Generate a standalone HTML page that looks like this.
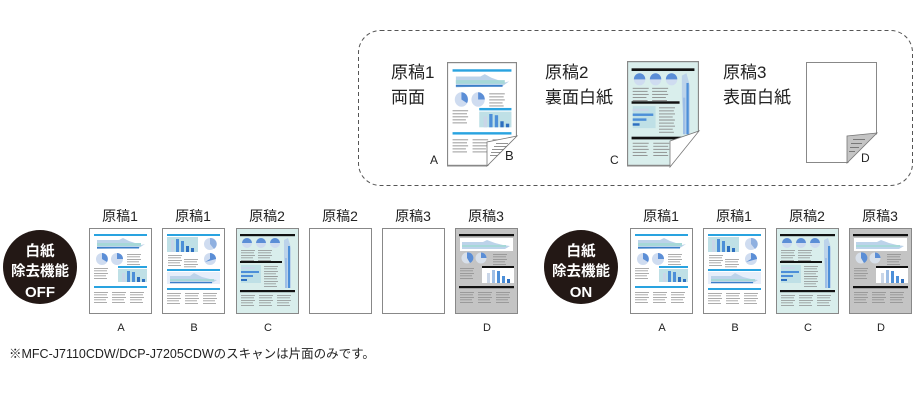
<!DOCTYPE html>
<html><head><meta charset="utf-8"><style>
html,body{margin:0;padding:0;background:#fff;}
body{width:920px;height:400px;overflow:hidden;position:relative;font-family:"Liberation Sans","Noto Sans CJK JP",sans-serif;}
svg{position:absolute;left:0;top:0;}
</style></head><body>
<svg width="920" height="400" viewBox="0 0 920 400" xmlns="http://www.w3.org/2000/svg" font-family="Liberation Sans, Noto Sans CJK JP, sans-serif">
<defs>
<g id="txt">
<rect x="0" y="0" width="14" height="0.7" fill="#888"/><rect x="0" y="2.5" width="13" height="0.7" fill="#888"/><rect x="0" y="5" width="14" height="0.7" fill="#888"/><rect x="0" y="7.5" width="12" height="0.7" fill="#888"/><rect x="0" y="10" width="13" height="0.7" fill="#888"/>
</g>
<symbol id="pA" viewBox="0 0 63 86" preserveAspectRatio="none">
<rect x="0.5" y="0.5" width="62" height="85" fill="#fff" stroke="#888"/>
<rect x="5" y="6" width="53" height="2" fill="#29a3e0"/>
<polygon points="8,12 30,12 34,10 40,13 46,15 52,17 56,16 50,20 8,21" fill="#bcd3ea"/>
<rect x="8" y="15" width="44" height="3" fill="#a6d8d8"/>
<rect x="8" y="19" width="42" height="1.5" fill="#3b7fc8"/>
<circle cx="13" cy="31" r="6" fill="#cfdcf0"/><path d="M13,31 L13,25 A6,6 0 0 1 18,34 Z" fill="#5b8ed6"/>
<circle cx="28" cy="31" r="6" fill="#cfdcf0"/><path d="M28,31 L28,25 A6,6 0 0 1 34,31 Z" fill="#5b8ed6"/>
<use href="#txt" x="38" y="26"/>
<use href="#txt" x="5" y="40"/>
<rect x="29" y="38" width="29" height="2" fill="#29a3e0"/>
<rect x="29" y="41" width="29" height="13" fill="#bfe0e6"/>
<rect x="33" y="45" width="3" height="9" fill="#c9d6e8"/><rect x="38" y="43" width="3" height="11" fill="#4d8fd8"/><rect x="43" y="44" width="3" height="10" fill="#4d8fd8"/><rect x="48" y="49" width="3" height="5" fill="#2d6fc0"/><rect x="53" y="51" width="3" height="3" fill="#2d6fc0"/>
<rect x="5" y="58" width="53" height="2" fill="#29a3e0"/>
<use href="#txt" x="5" y="64"/><use href="#txt" x="23" y="64"/><use href="#txt" x="41" y="64"/>
</symbol>
<symbol id="pB" viewBox="0 0 63 86" preserveAspectRatio="none">
<rect x="0.5" y="0.5" width="62" height="85" fill="#fff" stroke="#888"/>
<rect x="5" y="6" width="53" height="2" fill="#29a3e0"/>
<rect x="5" y="9" width="31" height="15" fill="#bfe0e6"/>
<rect x="9" y="12" width="3" height="12" fill="#c9d6e8"/><rect x="14" y="11" width="3" height="13" fill="#4d8fd8"/><rect x="19" y="13" width="3" height="11" fill="#4d8fd8"/><rect x="24" y="18" width="3" height="6" fill="#2d6fc0"/><rect x="29" y="20" width="3" height="4" fill="#2d6fc0"/>
<circle cx="48" cy="16" r="6" fill="#cfdcf0"/><path d="M48,16 L48,10 A6,6 0 0 1 52,21 Z" fill="#8fb0e0"/>
<circle cx="48" cy="31" r="6" fill="#cfdcf0"/><path d="M48,31 L48,25 A6,6 0 0 1 54,31 L43,34 Z" fill="#5b8ed6"/>
<use href="#txt" x="6" y="27"/><use href="#txt" x="22" y="31"/>
<rect x="5" y="41" width="53" height="2" fill="#29a3e0"/>
<rect x="5" y="44" width="53" height="12" fill="#e6eefa"/>
<polygon points="8,48 28,48 32,45 40,49 48,51 55,52 50,55 8,55" fill="#bcd3ea"/>
<rect x="8" y="51" width="44" height="2" fill="#a6d8d8"/><rect x="8" y="54" width="42" height="1.2" fill="#3b7fc8"/>
<rect x="5" y="60" width="53" height="2" fill="#29a3e0"/>
<use href="#txt" x="5" y="65"/><use href="#txt" x="23" y="65"/><use href="#txt" x="41" y="65"/>
</symbol>
<symbol id="pC" viewBox="0 0 63 86" preserveAspectRatio="none">
<rect x="0.5" y="0.5" width="62" height="85" fill="#d9eeec" stroke="#888"/>
<rect x="4" y="6" width="55" height="2.2" fill="#111"/>
<circle cx="11" cy="15" r="5" fill="#cfdcf0"/><path d="M11,15 L6,15 A5,5 0 0 1 16,15 Z" fill="#5b8ed6"/>
<circle cx="25" cy="15" r="5" fill="#cfdcf0"/><path d="M25,15 L20,15 A5,5 0 0 1 30,15 Z" fill="#5b8ed6"/>
<circle cx="39" cy="15" r="5" fill="#cfdcf0"/><path d="M39,15 L34,15 A5,5 0 0 1 44,15 Z" fill="#5b8ed6"/>
<use href="#txt" x="5" y="22"/><use href="#txt" x="22" y="22"/>
<rect x="4" y="33" width="42" height="2" fill="#111"/>
<rect x="5" y="37" width="20" height="18" fill="#bfe0e6"/>
<rect x="5" y="39" width="14" height="2" fill="#c9d6e8"/><rect x="5" y="43" width="18" height="2" fill="#4d8fd8"/><rect x="5" y="47" width="12" height="2" fill="#4d8fd8"/><rect x="5" y="51" width="6" height="2" fill="#2d6fc0"/>
<use href="#txt" x="28" y="38"/><use href="#txt" x="28" y="48"/>
<polygon points="48,12 52,10 55,20 55,60 50,60 48,30" fill="#bcd3ea"/><rect x="52" y="18" width="2" height="42" fill="#4d8fd8"/><rect x="49" y="30" width="2" height="30" fill="#9fbfe6"/>
<rect x="4" y="62" width="55" height="2.2" fill="#111"/>
<use href="#txt" x="5" y="67"/><use href="#txt" x="23" y="67"/><use href="#txt" x="41" y="67"/>
</symbol>
<symbol id="pD" viewBox="0 0 63 86" preserveAspectRatio="none">
<rect x="0.5" y="0.5" width="62" height="85" fill="#c4c4c4" stroke="#888"/>
<rect x="4" y="6" width="55" height="2.2" fill="#111"/>
<rect x="5" y="10" width="53" height="13" fill="#fff"/>
<polygon points="7,14 28,14 32,12 40,15 48,17 55,18 50,21 7,21" fill="#bcd3ea"/><rect x="7" y="17" width="44" height="2" fill="#a6d8d8"/>
<circle cx="12" cy="30" r="5.5" fill="#d8e0ea"/><path d="M12,30 L12,24.5 A5.5,5.5 0 0 1 15,35 Z" fill="#5b8ed6"/>
<circle cx="26" cy="30" r="5.5" fill="#d8e0ea"/><path d="M26,30 L26,24.5 A5.5,5.5 0 0 1 31.5,30 Z" fill="#5b8ed6"/>
<use href="#txt" x="38" y="26"/><use href="#txt" x="5" y="40"/>
<rect x="27" y="38" width="32" height="2" fill="#111"/>
<rect x="27" y="40" width="32" height="15" fill="#fff"/>
<rect x="32" y="45" width="3" height="10" fill="#c9d6e8"/><rect x="37" y="42" width="3" height="13" fill="#9fbfe6"/><rect x="42" y="43" width="3" height="12" fill="#4d8fd8"/><rect x="47" y="48" width="3" height="7" fill="#4d8fd8"/><rect x="52" y="51" width="3" height="4" fill="#2d6fc0"/>
<rect x="4" y="58" width="55" height="2.2" fill="#111"/>
<use href="#txt" x="5" y="64"/><use href="#txt" x="23" y="64"/><use href="#txt" x="41" y="64"/>
</symbol>
<symbol id="pE" viewBox="0 0 63 86" preserveAspectRatio="none">
<rect x="0.5" y="0.5" width="62" height="85" fill="#fff" stroke="#888"/>
</symbol>
</defs>

<rect x="358.5" y="30.5" width="554" height="155" rx="22" fill="none" stroke="#555" stroke-width="1" stroke-dasharray="4,3"/>

<g font-size="17" fill="#222">
<text x="391" y="78">原稿1</text><text x="391" y="103">両面</text>
<text x="545" y="78">原稿2</text><text x="545" y="103">裏面白紙</text>
<text x="723" y="78">原稿3</text><text x="723" y="103">表面白紙</text>
</g>

<use href="#pA" x="447" y="62" width="70" height="104"/>
<polygon points="487,167 518,135 518,167" fill="#fff"/>
<polygon points="487,166 487,142 517,136" fill="#fff" stroke="#777" stroke-width="0.8"/>
<g fill="#777"><rect x="496" y="143" width="12" height="0.8"/><rect x="494" y="146" width="13" height="0.8"/><rect x="492" y="149" width="12" height="0.8"/><rect x="491" y="152" width="10" height="0.8"/><rect x="490" y="155" width="8" height="0.8"/></g>
<line x1="447" y1="166" x2="487" y2="166" stroke="#888"/>
<text x="430" y="164" font-size="12" fill="#222">A</text>
<text x="505" y="160" font-size="13" fill="#222">B</text>

<use href="#pC" x="627" y="61" width="72" height="105"/>
<polygon points="670,167 700,130 700,167" fill="#fff"/>
<polygon points="670,167 670,141 699,131" fill="#fff" stroke="#777" stroke-width="0.8"/>
<line x1="627" y1="166" x2="670" y2="166" stroke="#888"/>
<text x="610" y="164" font-size="12" fill="#222">C</text>

<rect x="806.5" y="62.5" width="70" height="100" fill="#fff" stroke="#888"/>
<polygon points="847,164 878,133 878,164" fill="#fff"/>
<polygon points="847,163 847,136 877,133" fill="#c4c4c4" stroke="#777" stroke-width="0.8"/>
<g fill="#666"><rect x="853" y="139" width="12" height="0.8"/><rect x="851" y="143" width="11" height="0.8"/><rect x="850" y="147" width="9" height="0.8"/><rect x="849" y="151" width="6" height="0.8"/></g>
<text x="861" y="162" font-size="12" fill="#222">D</text>

<circle cx="40" cy="267" r="37" fill="#231815"/>
<g fill="#fff" font-size="14.5" font-weight="bold" text-anchor="middle">
<text x="40" y="256">白紙</text><text x="40" y="276">除去機能</text><text x="40" y="297" font-size="15">OFF</text>
</g>
<circle cx="581" cy="267" r="37" fill="#231815"/>
<g fill="#fff" font-size="14.5" font-weight="bold" text-anchor="middle">
<text x="581" y="256">白紙</text><text x="581" y="276">除去機能</text><text x="581" y="297" font-size="15">ON</text>
</g>

<use href="#pA" x="89" y="228" width="63" height="86"/>
<use href="#pB" x="162" y="228" width="63" height="86"/>
<use href="#pC" x="236" y="228" width="63" height="86"/>
<use href="#pE" x="309" y="228" width="63" height="86"/>
<use href="#pE" x="382" y="228" width="63" height="86"/>
<use href="#pD" x="455" y="228" width="63" height="86"/>

<use href="#pA" x="630" y="228" width="63" height="86"/>
<use href="#pB" x="703" y="228" width="63" height="86"/>
<use href="#pC" x="776" y="228" width="63" height="86"/>
<use href="#pD" x="849" y="228" width="63" height="86"/>

<g font-size="14" fill="#222" text-anchor="middle">
<text x="120" y="221">原稿1</text><text x="193" y="221">原稿1</text><text x="267" y="221">原稿2</text><text x="340" y="221">原稿2</text><text x="413" y="221">原稿3</text><text x="486" y="221">原稿3</text>
<text x="661" y="221">原稿1</text><text x="734" y="221">原稿1</text><text x="807" y="221">原稿2</text><text x="880" y="221">原稿3</text>
</g>
<g font-size="11" fill="#222" text-anchor="middle">
<text x="121" y="331">A</text><text x="194" y="331">B</text><text x="268" y="331">C</text><text x="487" y="331">D</text>
<text x="662" y="331">A</text><text x="735" y="331">B</text><text x="808" y="331">C</text><text x="881" y="331">D</text>
</g>

<text x="9" y="358" font-size="12.5" fill="#222">※MFC-J7110CDW/DCP-J7205CDWのスキャンは片面のみです。</text>
</svg>
</body></html>
